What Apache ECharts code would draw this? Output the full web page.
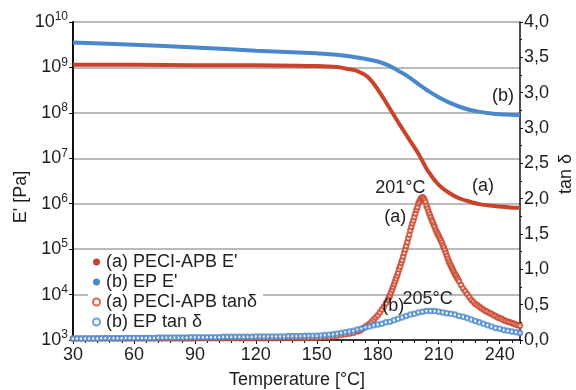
<!DOCTYPE html>
<html><head><meta charset="utf-8">
<script src="https://cdn.jsdelivr.net/npm/echarts@6/dist/echarts.min.js"></script>
<style>html,body{margin:0;padding:0;background:#fff}#c{width:576px;height:390px}</style>
</head><body><div id="c"></div>
<script>
// ---------- data ----------
const xTicks = [30, 60, 90, 120, 150, 180, 210, 240];
const rightTickLabels = ['0,0','0,5','1,0','1,5','2,0','2,5','3,0','3,0','3,5','4,0'];
const legendNames = ["(a) PECI-APB E'", "(b) EP E'", "(a) PECI-APB tanδ", "(b) EP tan δ"];

// E' (a) PECI-APB  [Pa]
const eA_T = [30,60,90,120,150,160,165,170,175,180,185,190,195,200,205,210,215,220,225,230,235,240,245,250];
const eA_V = [1.15e9,1.15e9,1.12e9,1.12e9,1.07e9,1.02e9,9.3e8,8.3e8,6.2e8,3.3e8,1.45e8,6.3e7,2.8e7,1.26e7,5.0e6,2.6e6,1.74e6,1.32e6,1.12e6,9.8e5,9.1e5,8.7e5,8.3e5,8.1e5];
// E' (b) EP  [Pa]
const eB_T = [30,60,90,120,150,160,170,175,180,185,190,195,200,205,210,215,220,225,230,235,240,245,250];
const eB_V = [3.55e9,3.16e9,2.75e9,2.34e9,2.04e9,1.91e9,1.66e9,1.51e9,1.35e9,1.12e9,8.5e8,6.3e8,4.3e8,3.0e8,2.2e8,1.7e8,1.38e8,1.17e8,1.05e8,9.8e7,9.3e7,9.1e7,8.9e7];

// tan delta (a) PECI-APB
const tA_T = [30,32,34,36,38,40,42,44,46,48,50,52,54,56,58,60,62,64,66,68,70,72,74,76,78,80,82,84,86,88,90,
  92,94,96,98,100,102,104,106,108,110,112,114,116,118,120,122,124,126,128,130,
  132,134,136,138,140,142,144,146,148,150,152,154,156,158,160,162,164,166,168,170,
  171,172,173,174,175,176,177,178,179,180,181,182,183,184,185,185.5,186,186.5,187,187.5,188,188.5,189,189.5,190,
  190.5,191,191.5,192,192.5,193,193.5,194,194.5,195,195.5,196,196.5,197,197.5,198,198.5,199,199.5,200,
  200.5,201,201.5,202,202.5,203,203.5,204,204.5,205,205.5,206,206.5,207,207.5,208,208.5,209,209.5,210,
  210.5,211,211.5,212,212.5,213,213.5,214,214.5,215,215.5,216,216.5,217,217.5,218,218.5,219,219.5,220,
  221,222,223,224,225,226,227,228,229,230,231,232,233,234,235,236,237,238,239,240,241,242,243,244,245,246,247,248,249,250];
const tA_V = [0.02,0.02,0.02,0.02,0.02,0.02,0.02,0.02,0.02,0.02,0.02,0.02,0.02,0.02,0.02,0.02,0.02,0.02,0.02,0.02,0.02,0.02,0.02,0.02,0.02,0.02,0.02,0.02,0.02,0.02,0.02,
  0.025,0.025,0.025,0.025,0.025,0.025,0.025,0.025,0.025,0.025,0.025,0.025,0.025,0.025,0.025,0.025,0.025,0.025,0.025,0.025,
  0.03,0.03,0.03,0.03,0.03,0.03,0.03,0.03,0.03,0.03,0.035,0.04,0.04,0.05,0.06,0.07,0.08,0.09,0.10,0.12,
  0.13,0.15,0.17,0.19,0.21,0.23,0.26,0.29,0.32,0.35,0.39,0.43,0.47,0.52,0.57,0.60,0.63,0.67,0.71,0.75,0.79,0.83,0.87,0.91,0.95,
  1.00,1.04,1.09,1.13,1.18,1.23,1.28,1.33,1.38,1.44,1.49,1.55,1.60,1.65,1.69,1.74,1.79,1.84,1.88,1.93,
  1.96,1.99,2.01,2.02,2.01,1.98,1.95,1.90,1.86,1.82,1.78,1.74,1.70,1.67,1.63,1.60,1.56,1.53,1.50,1.47,
  1.44,1.41,1.38,1.34,1.31,1.27,1.23,1.19,1.15,1.11,1.08,1.05,1.02,0.99,0.96,0.93,0.91,0.88,0.86,0.83,
  0.78,0.73,0.69,0.65,0.61,0.57,0.54,0.51,0.49,0.47,0.45,0.43,0.41,0.40,0.38,0.37,0.35,0.34,0.32,0.31,0.30,0.28,0.27,0.26,0.25,0.24,0.23,0.22,0.21,0.20];

// tan delta (b) EP
const tB_T = [30,32,34,36,38,40,42,44,46,48,50,52,54,56,58,60,62,64,66,68,70,72,74,76,78,80,82,84,86,88,90,
  92,94,96,98,100,102,104,106,108,110,112,114,116,118,120,122,124,126,128,130,
  132,134,136,138,140,142,144,146,148,150,152,154,156,158,160,162,164,166,168,170,
  172,174,176,178,180,182,184,186,188,190,192,194,196,198,200,202,204,206,208,210,
  212,214,216,218,220,222,224,226,228,230,232,234,236,238,240,242,244,246,248,250];
const tB_V = [0.02,0.02,0.02,0.02,0.02,0.02,0.02,0.025,0.025,0.025,0.025,0.025,0.025,0.03,0.03,0.03,0.03,0.03,0.03,0.03,0.03,0.035,0.035,0.035,0.035,0.035,0.035,0.035,0.035,0.04,0.04,
  0.04,0.04,0.04,0.04,0.04,0.04,0.045,0.045,0.045,0.045,0.045,0.045,0.045,0.045,0.05,0.05,0.05,0.05,0.05,0.05,
  0.05,0.05,0.055,0.055,0.055,0.055,0.06,0.06,0.06,0.06,0.065,0.07,0.075,0.08,0.09,0.10,0.11,0.12,0.13,0.15,
  0.16,0.18,0.19,0.21,0.22,0.23,0.25,0.26,0.28,0.30,0.32,0.34,0.36,0.37,0.39,0.40,0.41,0.41,0.41,0.40,
  0.39,0.38,0.37,0.36,0.34,0.33,0.31,0.29,0.27,0.25,0.23,0.21,0.19,0.17,0.16,0.14,0.13,0.12,0.11,0.10];

// annotations [T, tanδ-axis value, text]
const notes = [[191.4,2.15,'201°C'],[188.9,1.73,'(a)'],[204.8,0.57,'205°C'],[187.9,0.47,'(b)'],[232,2.17,'(a)'],[241.9,3.44,'(b)']];

// ---------- chart ----------
const RED = '#c9432a', BLUE = '#4a88cc';
const FONT = 'Liberation Sans';
const TXT = '#1e1e1e';
const zip = (a, b) => a.map((t, i) => [t, b[i]]);

const chart = echarts.init(document.getElementById('c'), null, {renderer: 'canvas'});
chart.setOption({
  animation: false,
  backgroundColor: '#fff',
  textStyle: {fontFamily: FONT},
  grid: {left: 73, right: 56, top: 22, bottom: 50},
  legend: {
    orient: 'vertical', left: 88, top: 251, padding: [2, 6, 2, 4],
    backgroundColor: '#fff', itemWidth: 7, itemHeight: 7, itemGap: 2,
    textStyle: {fontSize: 18, color: TXT, fontFamily: FONT, lineHeight: 17, padding: [0, 0, 0, 1]},
    data: [
      {name: legendNames[0], icon: 'circle'},
      {name: legendNames[1], icon: 'circle'},
      {name: legendNames[2], icon: 'emptyCircle'},
      {name: legendNames[3], icon: 'emptyCircle'}
    ]
  },
  xAxis: {
    type: 'value', min: 30, max: 250, interval: 30,
    axisLine: {lineStyle: {color: '#111', width: 1.5}},
    axisTick: {show: true, length: 4, lineStyle: {color: '#111'}},
    minorTick: {show: true, splitNumber: 5, length: 3, lineStyle: {color: '#111'}},
    splitLine: {show: false},
    axisLabel: {fontSize: 18, color: TXT, margin: 6, showMaxLabel: false,
      formatter: v => xTicks.includes(v) ? String(v) : ''}
  },
  yAxis: [
    {
      type: 'log', logBase: 10, min: 1e3, max: 1e10, splitNumber: 7,
      axisLine: {show: true, lineStyle: {color: '#111', width: 2}},
      axisTick: {show: true, length: 4, lineStyle: {color: '#111'}},
      splitLine: {show: true, lineStyle: {color: '#a3a3a3', width: 1.5}},
      axisLabel: {
        margin: 5, color: TXT,
        formatter: v => '{b|10}{s|' + Math.round(Math.log10(v)) + '}',
        rich: {b: {fontSize: 18, color: TXT, fontFamily: FONT},
               s: {fontSize: 12, color: TXT, fontFamily: FONT, padding: [0, 0, 10, 0]}}
      }
    },
    {
      type: 'value', min: 0, max: 4.5, interval: 0.5, position: 'right',
      axisLine: {show: true, lineStyle: {color: '#111', width: 1.5}},
      axisTick: {show: true, length: 3, lineStyle: {color: '#111'}},
      minorTick: {show: true, splitNumber: 2, length: 2, lineStyle: {color: '#111'}},
      splitLine: {show: false},
      axisLabel: {fontSize: 18, color: TXT, margin: 4,
        formatter: v => rightTickLabels[Math.round(v / 0.5)] || ''}
    }
  ],
  graphic: [
    {type: 'text', x: 21, y: 197, rotation: Math.PI / 2,
      style: {text: "E' [Pa]", fontSize: 18, fontFamily: FONT, fill: TXT, align: 'center', verticalAlign: 'middle'}},
    {type: 'text', x: 566, y: 174, rotation: Math.PI / 2,
      style: {text: 'tan δ', fontSize: 18, fontFamily: FONT, fill: TXT, align: 'center', verticalAlign: 'middle'}},
    {type: 'text', x: 297, y: 380,
      style: {text: 'Temperature [°C]', fontSize: 18, fontFamily: FONT, fill: TXT, align: 'center', verticalAlign: 'middle'}}
  ],
  series: [
    {name: legendNames[0], type: 'line', yAxisIndex: 0, data: zip(eA_T, eA_V), smooth: 0.3,
      showSymbol: false, lineStyle: {color: RED, width: 4}, itemStyle: {color: RED}, z: 3},
    {name: legendNames[1], type: 'line', yAxisIndex: 0, data: zip(eB_T, eB_V), smooth: 0.3,
      showSymbol: false, lineStyle: {color: BLUE, width: 4}, itemStyle: {color: BLUE}, z: 3},
    {name: legendNames[2], type: 'scatter', yAxisIndex: 1, data: zip(tA_T, tA_V),
      symbol: 'emptyCircle', symbolSize: 4.5, itemStyle: {color: RED, borderColor: RED, borderWidth: 1}, z: 4},
    {name: legendNames[3], type: 'scatter', yAxisIndex: 1, data: zip(tB_T, tB_V),
      symbol: 'emptyCircle', symbolSize: 4.5, itemStyle: {color: BLUE, borderColor: BLUE, borderWidth: 1}, z: 5},
    {name: 'notes', type: 'scatter', yAxisIndex: 1, data: notes.map(n => [n[0], n[1]]),
      symbolSize: 1, itemStyle: {opacity: 0}, silent: true, z: 6,
      label: {show: true, position: [0, 0], align: 'center', verticalAlign: 'middle',
        fontSize: 18, color: TXT, fontFamily: FONT, opacity: 1, textBorderWidth: 0,
        formatter: p => notes[p.dataIndex][2]},
      emphasis: {disabled: true}}
  ]
});
</script></body></html>
